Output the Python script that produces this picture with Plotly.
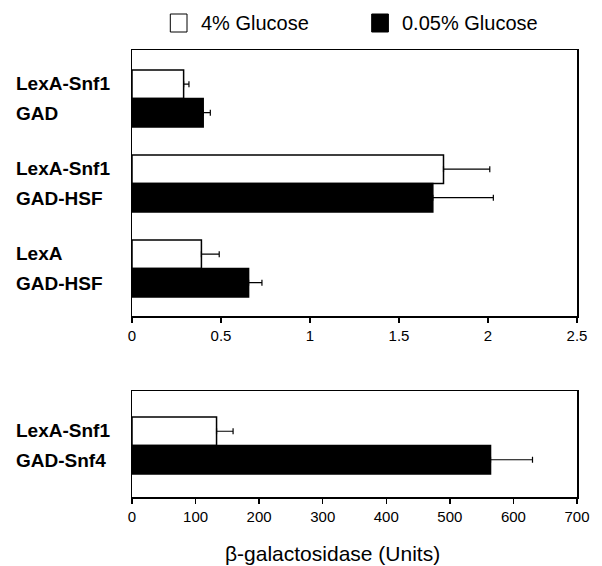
import plotly.graph_objects as go

# ---- data ----
top_categories = ["LexA-Snf1 / GAD", "LexA-Snf1 / GAD-HSF", "LexA / GAD-HSF"]
top_line1 = ["LexA-Snf1", "LexA-Snf1", "LexA"]
top_line2 = ["GAD", "GAD-HSF", "GAD-HSF"]
top_glc4 = [0.29, 1.75, 0.39]
top_glc4_err = [0.03, 0.26, 0.10]
top_glc005 = [0.40, 1.69, 0.655]
top_glc005_err = [0.04, 0.34, 0.075]

bot_categories = ["LexA-Snf1 / GAD-Snf4"]
bot_line1 = ["LexA-Snf1"]
bot_line2 = ["GAD-Snf4"]
bot_glc4 = [133]
bot_glc4_err = [26]
bot_glc005 = [564]
bot_glc005_err = [66]

top_ticks = [0, 0.5, 1, 1.5, 2, 2.5]
top_ticktext = ["0", "0.5", "1", "1.5", "2", "2.5"]
bot_ticks = [0, 100, 200, 300, 400, 500, 600, 700]

series_names = ["4% Glucose", "0.05% Glucose"]
x_title = "β-galactosidase (Units)"

FONT = "Liberation Sans, Arial, Helvetica, sans-serif"

# plot area in page pixels: x 132..585, y 50..497
L, R, T, B = 132, 585, 50, 497
W, H = 602, 566
def px(x):
    return (x - L) / (R - L)
def py(y):
    return (B - y) / (B - T)

fig = go.Figure()

def add_bars(cats, vals, errs, color, xa, ya):
    fig.add_trace(go.Bar(
        y=cats, x=vals, orientation="h",
        marker=dict(color=color, line=dict(color="black", width=1.5)),
        error_x=dict(type="data", array=errs, arrayminus=[0] * len(errs),
                     symmetric=False, color="black", thickness=1.2, width=3),
        xaxis=xa, yaxis=ya, showlegend=False,
    ))

add_bars(top_categories, top_glc4, top_glc4_err, "white", "x", "y")
add_bars(top_categories, top_glc005, top_glc005_err, "black", "x", "y")
add_bars(bot_categories, bot_glc4, bot_glc4_err, "white", "x2", "y2")
add_bars(bot_categories, bot_glc005, bot_glc005_err, "black", "x2", "y2")

axis_common = dict(showline=True, linecolor="black", linewidth=1.5, mirror=True,
                   showgrid=False, zeroline=False)

annotations = []
for cats, l1, l2, yref in [(top_categories, top_line1, top_line2, "y"),
                           (bot_categories, bot_line1, bot_line2, "y2")]:
    for c, a, b in zip(cats, l1, l2):
        annotations.append(dict(x=px(12), xref="paper", y=c, yref=yref, yshift=15,
                                text="<b>%s</b>" % a, showarrow=False, xanchor="left",
                                yanchor="middle", font=dict(size=19, color="black", family=FONT)))
        annotations.append(dict(x=px(12), xref="paper", y=c, yref=yref, yshift=-15,
                                text="<b>%s</b>" % b, showarrow=False, xanchor="left",
                                yanchor="middle", font=dict(size=19, color="black", family=FONT)))

# legend (custom)
annotations.append(dict(x=px(200), y=py(23.5), xref="paper", yref="paper", text=series_names[0],
                        showarrow=False, xanchor="left", yanchor="middle",
                        font=dict(size=20, color="black", family=FONT)))
annotations.append(dict(x=px(405), y=py(23.5), xref="paper", yref="paper", text=series_names[1],
                        showarrow=False, xanchor="left", yanchor="middle",
                        font=dict(size=20, color="black", family=FONT)))
# x axis title
annotations.append(dict(x=px(336), y=py(553), xref="paper", yref="paper", text=x_title,
                        showarrow=False, xanchor="center", yanchor="middle",
                        font=dict(size=21, color="black", family=FONT)))

shapes = [
    dict(type="rect", xref="paper", yref="paper", x0=px(171), x1=px(188), y0=py(32), y1=py(14),
         fillcolor="white", line=dict(color="black", width=1)),
    dict(type="rect", xref="paper", yref="paper", x0=px(376), x1=px(393), y0=py(32), y1=py(14),
         fillcolor="black", line=dict(color="black", width=1)),
]

fig.update_layout(
    width=W, height=H,
    margin=dict(l=L, r=W - R, t=T, b=H - B, pad=0),
    paper_bgcolor="white", plot_bgcolor="white",
    barmode="group", bargap=0.33, bargroupgap=0,
    font=dict(family=FONT, color="black"),
    hovermode=False,
    xaxis=dict(domain=[0, 1], anchor="y", range=[0, 2.5], tickvals=top_ticks,
               ticktext=top_ticktext, ticks="outside", ticklen=5, tickcolor="black",
               tickwidth=1.5, tickfont=dict(size=15, color="black", family=FONT),
               **axis_common),
    yaxis=dict(domain=[py(316), 1], anchor="x", type="category",
               range=[2.56, -0.57], showticklabels=False, ticks="", **axis_common),
    xaxis2=dict(domain=[0, 1], anchor="y2", range=[0, 700], tickvals=bot_ticks,
                ticks="outside", ticklen=5, tickcolor="black", tickwidth=1.5,
                tickfont=dict(size=15, color="black", family=FONT), **axis_common),
    yaxis2=dict(domain=[0, py(391)], anchor="x2", type="category",
                range=[0.606, -0.641], showticklabels=False, ticks="", **axis_common),
    annotations=annotations,
    shapes=shapes,
)

fig.write_html("out.html", config={"displayModeBar": False, "staticPlot": True},
               post_script="document.body.style.margin='0';document.body.style.overflow='hidden';")
